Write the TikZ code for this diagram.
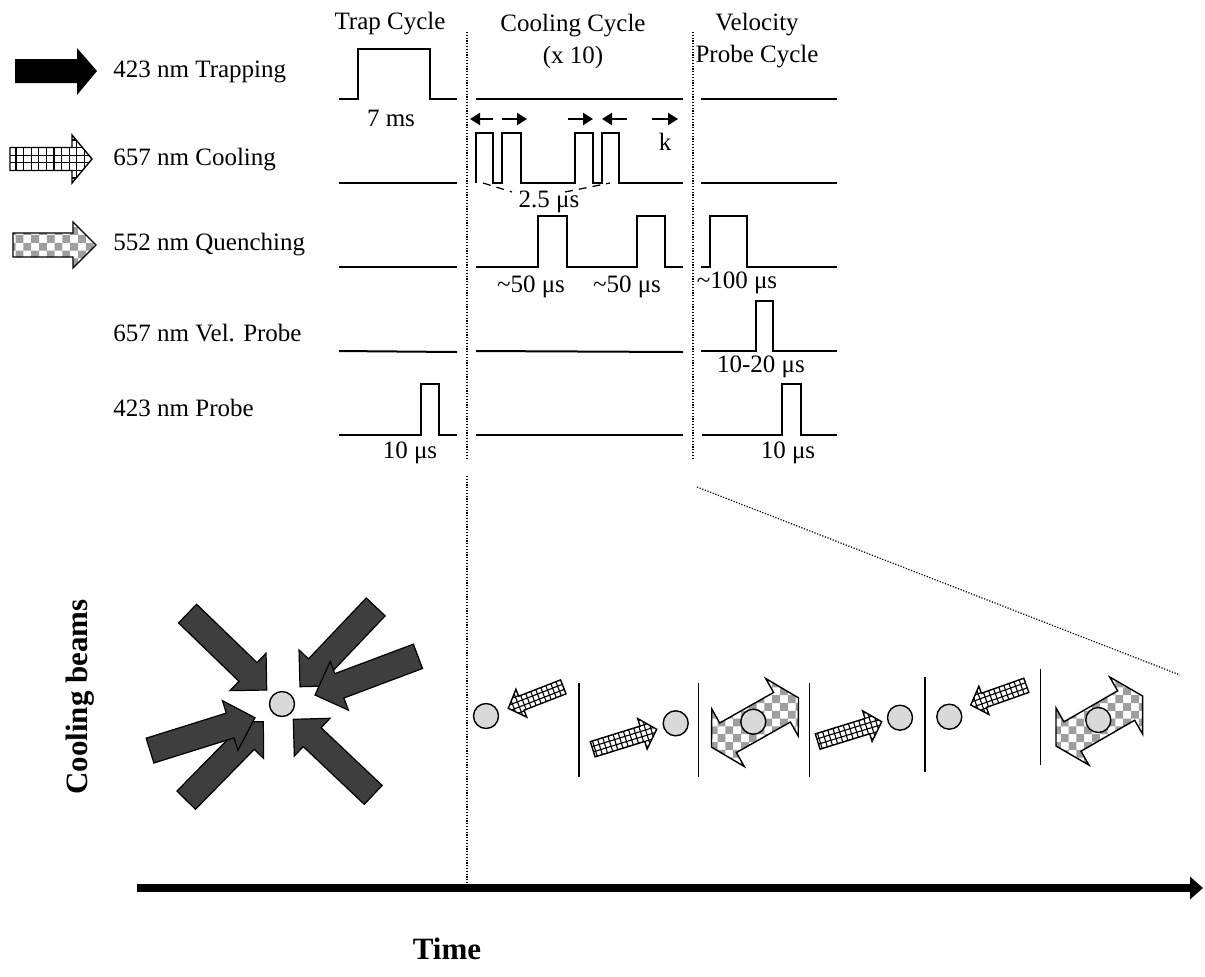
\documentclass[tikz,border=0pt]{standalone}
\usepackage{fontspec}
\setmainfont{Liberation Serif}
\usepackage{tikz}
\usetikzlibrary{arrows.meta, patterns}
\definecolor{BeamGray}{RGB}{62,62,62}
\definecolor{AtomGray}{RGB}{217,217,217}
\definecolor{CheckGray}{RGB}{158,158,158}

% checker fill of the quenching beams
\pgfdeclarepatternformonly{checks}{\pgfqpoint{-0.1pt}{-0.1pt}}{\pgfqpoint{7.9pt}{7.9pt}}{\pgfqpoint{7.8pt}{7.8pt}}{%
  \pgfpathrectangle{\pgfqpoint{0pt}{0pt}}{\pgfqpoint{3.9pt}{3.9pt}}%
  \pgfpathrectangle{\pgfqpoint{3.9pt}{3.9pt}}{\pgfqpoint{3.9pt}{3.9pt}}%
  \pgfusepath{fill}}

% block arrow, tip at the origin: length, body width, head width, head length
\newcommand{\beamoutline}[4]{(0,0) -- (-#4,#3/2) -- (-#4,#2/2) -- (-#1,#2/2) -- (-#1,-#2/2) -- (-#4,-#2/2) -- (-#4,-#3/2) -- cycle}

% hatched cooling beam: tip, angle, length, body, head width, head length, grid step
\newcommand{\gridbeam}[7]{%
  \begin{scope}[shift={#1}, rotate=#2]
    \fill[white] \beamoutline{#3}{#4}{#5}{#6};
    \clip \beamoutline{#3}{#4}{#5}{#6};
    \foreach \g in {0,...,16} {
      \draw[gridline] (-\g*#7,-60) -- (-\g*#7,60);
      \draw[gridline] (-120,\g*#7-7.5*#7) -- (5,\g*#7-7.5*#7);
    }
  \end{scope}
  \draw[beamline, shift={#1}, rotate=#2] \beamoutline{#3}{#4}{#5}{#6};}

% trapping beam of the star
\newcommand{\trapbeam}[2]{\draw[starbeam, shift={#1}, rotate=#2] \beamoutline{110}{26}{52}{26};}

% pair of quenching beams round an atom
\newcommand{\quenchpair}[2]{\path[quenchbeam, shift={#1}, rotate=#2] (50,0) -- (31,33) -- (31,17) -- (-31,17) -- (-31,33) -- (-50,0) -- (-31,-33) -- (-31,-17) -- (31,-17) -- (31,-33) -- cycle;}

\begin{document}
\begin{tikzpicture}[x=0.5pt, y=-0.5pt, every node/.style={font=\fontsize{12.5}{16}\selectfont, inner sep=0pt},
  wave/.style={line width=1pt},
  sep/.style={line width=0.6pt, dash pattern=on 0.6pt off 0.8pt},
  tick/.style={-{Triangle[length=5pt,width=6pt]}, line width=1.1pt},
  gapline/.style={line width=0.6pt, dash pattern=on 4pt off 3pt},
  beamline/.style={line width=0.7pt},
  gridline/.style={line width=0.55pt},
  starbeam/.style={draw=black, fill=BeamGray, line width=0.6pt},
  quenchbeam/.style={draw=black, line width=0.7pt, preaction={fill=white}, pattern=checks, pattern color=CheckGray},
  atom/.style={circle, draw, fill=AtomGray, line width=0.7pt, minimum size=12.5pt},
  scenesep/.style={line width=0.7pt},
  heading/.style={font=\fontsize{15.5}{18}\selectfont\bfseries}]
\useasboundingbox (0,0) rectangle (1205,976);

% legend
\fill[black] (97,71) -- (77,48) -- (77,59) -- (15,59) -- (15,83) -- (77,83) -- (77,95) -- cycle;
\gridbeam{(92,159)}{0}{82}{23}{48}{20}{7.6}
\path[quenchbeam] (96,245) -- (73,222) -- (73,233) -- (13,233) -- (13,257) -- (73,257) -- (73,268) -- cycle;
\node[anchor=west] (trapping) at (113,72) {423 nm Trapping};
\node[anchor=west] (cooling) at (113,160) {657 nm Cooling};
\node[anchor=west] (quenching) at (113,245) {552 nm Quenching};
\node[anchor=west] (velprobe) at (113,333) {657 nm Vel. Probe};
\node[anchor=west] (probe) at (113,408) {423 nm Probe};

% cycle headings
\node (trapcyc) at (390,24) {Trap Cycle};
\node[align=center] (coolcyc) at (573,41) {Cooling Cycle\\(x 10)};
\node[align=center] (velcyc) at (757,41) {Velocity\\Probe Cycle};
\draw[sep] (467,32) -- (467,458);
\draw[sep] (693,32) -- (693,458);

% trap cycle
\draw[wave] (339,99) -- (358,99) -- (358,49) -- (430,49) -- (430,99) -- (457,99);
\draw[wave] (339,183) -- (457,183);
\draw[wave] (339,267) -- (457,267);
\draw[wave] (339,351) -- (457,352);
\draw[wave] (339,435) -- (421,435) -- (421,384) -- (439,384) -- (439,435) -- (457,435);
\node (trapwidth) at (391,118) {7 ms};
\node (probewidth) at (410,453) {10 μs};

% cooling cycle
\draw[wave] (476,99) -- (683,99);
\draw[wave] (476,183) -- (476,133) -- (493.3,133) -- (493.3,183) -- (501.7,183) -- (501.7,133) -- (520.7,133) -- (520.7,183)
  -- (575,183) -- (575,133) -- (592.7,133) -- (592.7,183) -- (601.7,183) -- (601.7,133) -- (619.3,133) -- (619.3,183) -- (683,183);
\draw[wave] (476,267) -- (538.3,267) -- (538.3,216) -- (566.7,216) -- (566.7,267) -- (637.3,267) -- (637.3,216) -- (665,216) -- (665,267) -- (683,267);
\draw[wave] (476,351) -- (683,352);
\draw[wave] (476,435) -- (683,435);
\draw[tick] (493,119) -- (470,119);
\draw[tick] (502,119) -- (527,119);
\draw[tick] (568,119) -- (593,119);
\draw[tick] (627,119) -- (602,119);
\draw[tick] (652,119) -- (678,119);
\node (kvec) at (665,142) {k};
\draw[gapline] (483,183) -- (512,192);
\draw[gapline] (565,192) -- (610,183);
\node (gapwidth) at (549,202) {2.5 μs};
\node (quench1) at (531,287) {\textasciitilde50 μs};
\node (quench2) at (627,287) {\textasciitilde50 μs};

% velocity probe cycle
\draw[wave] (701,99) -- (837,99);
\draw[wave] (701,183) -- (837,183);
\draw[wave] (701,267) -- (710,267) -- (710,216) -- (746.7,216) -- (746.7,267) -- (837,267);
\draw[wave] (701,351) -- (756,351) -- (756,301) -- (773.3,301) -- (773.3,351) -- (837,351);
\draw[wave] (702,435) -- (782.3,435) -- (782.3,384) -- (800.7,384) -- (800.7,435) -- (837,435);
\node (quench3) at (737,283) {\textasciitilde100 μs};
\node (velwidth) at (761,367) {10-20 μs};
\node (probewidth2) at (788,453) {10 μs};

% zoom lines
\draw[sep] (467,476) -- (467,888);
\draw[sep] (697,487) -- (1180,675);

% star of trapping beams
\node[heading, rotate=90] (beams) at (80,697) {Cooling beams};
\trapbeam{(266.7,690)}{-44}
\trapbeam{(300,686.7)}{-133.5}
\trapbeam{(315,695)}{-159.4}
\trapbeam{(293.3,719.3)}{136.6}
\trapbeam{(263.3,721.7)}{45.5}
\trapbeam{(255,717.7)}{17.4}
\node[atom] (trapatom) at (282,704) {};

% cooling sequence
\node[atom] (atom1) at (486,716) {};
\gridbeam{(508.3,708.3)}{-158.7}{59}{15}{30}{14}{5.4}
\draw[scenesep] (579,683) -- (579,777);
\gridbeam{(656.7,729.3)}{17.3}{67}{16}{32}{15}{5.4}
\node[atom] (atom2) at (675.7,723.3) {};
\draw[scenesep] (698.3,683) -- (698.3,777);
\quenchpair{(755,722.5)}{29.5}
\node[atom] (atom3) at (753.3,721.7) {};
\draw[scenesep] (809.3,683) -- (809.3,777);
\gridbeam{(881.7,721.7)}{17.2}{67}{16}{32}{15}{5.4}
\node[atom] (atom4) at (900,717.7) {};
\draw[scenesep] (925,677) -- (925,772);
\node[atom] (atom5) at (949.3,716.7) {};
\gridbeam{(970.7,705)}{-160.5}{59}{15}{30}{14}{5.4}
\draw[scenesep] (1040.7,669) -- (1040.7,765);
\quenchpair{(1099.3,721)}{30}
\node[atom] (atom6) at (1098.3,720) {};

% time axis
\coordinate (t0) at (137,888);
\coordinate (t1) at (1203,888);
\draw[line width=4pt, -{Triangle[length=6.5pt,width=11pt]}] (t0) -- (t1);
\node[heading] (time) at (447,949) {Time};
\end{tikzpicture}
\end{document}
